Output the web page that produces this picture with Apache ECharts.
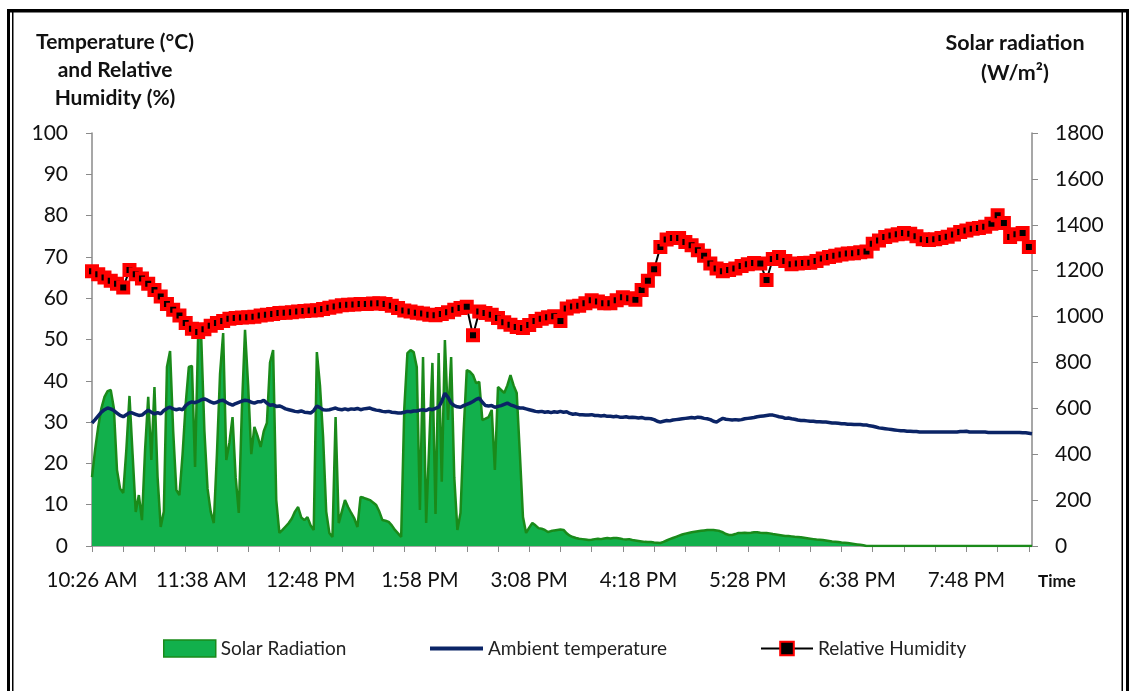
<!DOCTYPE html>
<html><head><meta charset="utf-8">
<script src="https://cdn.jsdelivr.net/npm/echarts@6/dist/echarts.min.js"></script>
<style>html,body{margin:0;padding:0;background:#fff}#c{width:1133px;height:691px}</style>
</head><body><div id="c"></div>
<script>
// x-axis tick labels (one every 35 samples)
const tickLabels = ['10:26 AM','11:38 AM','12:48 PM','1:58 PM','3:08 PM','4:18 PM','5:28 PM','6:38 PM','7:48 PM'];

// Solar radiation (W/m2), one value per sample
const solarRadiation = [
300,420,520,600,650,675,680,600,331,250,
231,420,654,400,148,222,113,420,650,375,
693,300,83,150,780,850,500,244,222,400,
620,780,785,344,928,900,500,250,150,100,
400,750,928,375,450,562,300,144,600,942,
700,400,519,480,432,500,536,800,854,200,
57,70,85,100,120,150,170,125,113,126,
90,70,845,700,475,150,57,39,562,100,
150,200,170,144,120,83,214,210,205,200,
190,179,150,113,110,105,90,70,55,39,
600,841,854,845,780,157,824,100,450,798,
140,841,280,898,549,824,300,70,144,500,
767,760,745,710,715,549,555,562,593,331,
693,680,667,700,745,700,667,405,126,57,
80,100,90,78,75,70,61,65,68,70,
72,70,55,45,39,35,32,30,28,26,
27,30,32,30,33,35,33,35,35,33,
30,28,30,26,24,22,20,18,17,17,
15,14,13,18,24,30,35,40,45,50,
54,57,60,62,64,66,68,70,70,70,
68,65,60,52,48,48,52,57,57,58,
57,58,60,60,58,57,57,55,52,50,
48,46,44,44,42,40,39,38,36,34,
32,30,28,27,26,24,22,20,19,17,
15,14,13,11,9,7,5,3,0,0,
0,0,0,0,0,0,0,0,0,0,
0,0,0,0,0,0,0,0,0,0,
0,0,0,0,0,0,0,0,0,0,
0,0,0,0,0,0,0,0,0,0,
0,0,0,0,0,0,0,0,0,0,
0,0
];

// Ambient temperature (°C), one value per sample
const ambientTemperature = [
29.8,30.6,31.5,32.4,33.0,33.4,33.2,32.8,32.2,31.6,
31.3,31.8,32.3,32.2,31.9,31.6,31.7,32.3,32.9,32.4,
32.0,32.3,32.0,32.8,33.3,33.6,33.2,33.0,33.2,33.0,
34.0,34.6,34.9,34.7,35.0,35.4,35.6,35.3,34.9,34.6,
34.8,35.2,35.3,34.8,34.4,34.1,34.5,34.8,35.1,35.3,
35.2,34.8,34.6,34.9,34.9,35.3,34.6,34.1,34.2,33.8,
33.9,33.6,33.2,33.0,32.8,32.6,32.5,32.7,32.4,32.3,
32.2,32.8,33.9,33.5,33.0,32.9,33.0,33.2,33.4,33.1,
33.0,33.2,33.0,33.2,33.1,33.3,33.0,33.2,33.3,33.4,
33.1,32.9,32.8,32.6,32.5,32.6,32.4,32.3,32.2,32.2,
32.4,32.6,32.5,32.7,32.7,32.9,33.0,32.8,33.2,33.0,
33.3,33.6,35.0,37.0,36.0,34.6,34.0,33.7,33.6,34.0,
34.3,34.6,35.0,35.5,35.8,34.8,34.0,33.9,34.0,33.6,
33.8,34.0,34.3,34.6,34.2,33.9,33.6,33.4,33.4,33.2,
33.0,32.8,32.6,32.5,32.6,32.4,32.5,32.3,32.5,32.4,
32.6,32.4,32.5,32.1,31.9,32.0,31.8,31.8,31.7,31.7,
31.8,31.6,31.6,31.5,31.6,31.4,31.4,31.3,31.4,31.2,
31.2,31.3,31.1,31.2,31.1,31.0,31.1,30.9,30.9,30.8,
30.6,30.2,30.0,30.2,30.4,30.3,30.5,30.6,30.7,30.8,
30.9,31.0,31.1,31.0,31.2,31.1,30.9,30.8,30.6,30.2,
30.0,30.5,30.9,30.7,30.6,30.5,30.6,30.5,30.6,30.8,
30.9,31.0,31.1,31.3,31.4,31.5,31.6,31.7,31.7,31.5,
31.3,31.2,30.9,31.0,30.8,30.7,30.5,30.4,30.4,30.3,
30.2,30.2,30.1,30.1,30.0,30.0,29.9,29.8,29.8,29.7,
29.6,29.6,29.5,29.5,29.4,29.4,29.4,29.3,29.3,29.1,
29.0,28.8,28.6,28.5,28.4,28.3,28.2,28.1,28.0,27.9,
27.9,27.8,27.8,27.7,27.7,27.6,27.6,27.6,27.6,27.6,
27.6,27.6,27.6,27.6,27.6,27.6,27.6,27.6,27.7,27.7,
27.8,27.6,27.6,27.6,27.6,27.6,27.6,27.5,27.5,27.5,
27.5,27.5,27.5,27.5,27.5,27.5,27.5,27.5,27.4,27.4,
27.3,27.2
];

// Relative humidity (%), recorded every 2nd sample
const relativeHumidity = [
66.5,65.8,65.0,64.2,63.5,62.6,66.8,65.8,64.8,63.5,
62.0,60.4,58.6,57.2,55.8,54.0,52.6,51.8,52.5,53.3,
54.0,54.5,55.0,55.2,55.3,55.4,55.5,55.8,56.0,56.2,
56.4,56.5,56.6,56.8,56.9,57.0,57.1,57.4,57.7,58.0,
58.3,58.4,58.5,58.6,58.6,58.7,58.8,58.6,58.2,57.6,
57.0,56.8,56.5,56.3,56.0,55.9,56.2,56.6,57.2,57.6,
57.9,51.0,56.8,56.4,56.0,55.2,54.2,53.6,53.0,52.8,
53.5,54.5,55.0,55.4,55.6,54.5,57.5,58.0,58.2,58.8,
59.5,59.2,58.8,58.8,59.5,60.2,60.0,59.6,62.0,64.2,
67.0,72.4,74.2,74.6,74.6,73.6,72.8,71.6,70.3,68.4,
67.2,66.5,66.8,67.2,67.8,68.2,68.5,68.4,64.4,69.5,
70.0,69.0,68.2,68.4,68.5,68.6,69.0,69.6,70.0,70.3,
70.6,70.8,70.9,71.1,71.3,73.2,74.0,74.8,75.2,75.5,
75.8,75.6,75.0,74.3,74.1,74.3,74.6,74.9,75.4,76.0,
76.4,76.8,77.0,77.3,78.0,80.1,78.2,74.8,75.5,75.8,
72.4
];
const humidityStep = 2;
const labelEvery = 35;

const categories = solarRadiation.map((_, i) => String(i));
const humidityData = relativeHumidity.map((v, j) => [j * humidityStep, v]);

const FONT = 'Lato';
const chart = echarts.init(document.getElementById('c'), null, {renderer: 'canvas'});
const axisGray = '#8a8a8a';
chart.setOption({
  animation: false,
  backgroundColor: '#fff',
  textStyle: {fontFamily: FONT},
  grid: {left: 92, right: 101, top: 133, bottom: 145, containLabel: false},
  xAxis: {
    type: 'category', data: categories, boundaryGap: false,
    axisLine: {lineStyle: {color: axisGray, width: 1.5}},
    axisTick: {interval: 9, length: 6, lineStyle: {color: axisGray}},
    axisLabel: {interval: labelEvery - 1, margin: 24, fontSize: 20.5, color: '#111', fontFamily: FONT,
      formatter: (v, idx) => tickLabels[Math.round(idx / labelEvery)] || ''},
    splitLine: {show: false}
  },
  yAxis: [
    {type: 'value', min: 0, max: 100, interval: 10,
     axisLine: {show: true, lineStyle: {color: axisGray, width: 1.5}},
     axisTick: {show: true, length: 6, lineStyle: {color: axisGray}},
     axisLabel: {fontSize: 21, color: '#111', margin: 24, fontFamily: FONT},
     splitLine: {show: false}},
    {type: 'value', min: 0, max: 1800, interval: 200, position: 'right',
     axisLine: {show: true, lineStyle: {color: axisGray, width: 1.5}},
     axisTick: {show: true, length: 6, lineStyle: {color: axisGray}},
     axisLabel: {fontSize: 21, color: '#111', margin: 23, fontFamily: FONT, formatter: v => String(v)},
     splitLine: {show: false}}
  ],
  legend: [
    {data: ['Solar Radiation'], left: 158, top: 634, icon: 'rect', itemWidth: 52, itemHeight: 17, itemGap: 0,
     itemStyle: {color: '#12b04c', borderColor: '#1a8a1a', borderWidth: 1.5},
     textStyle: {fontSize: 19, color: '#222', fontFamily: FONT}},
    {data: ['Ambient temperature'], left: 425, top: 634, icon: 'rect', itemWidth: 53, itemHeight: 4,
     itemStyle: {color: '#0b2466', borderWidth: 0},
     textStyle: {fontSize: 19, color: '#222', fontFamily: FONT}},
    {data: ['Relative Humidity'], left: 755, top: 634, itemWidth: 52, itemHeight: 17,
     textStyle: {fontSize: 19, color: '#222', fontFamily: FONT}}
  ],
  series: [
    {name: 'Solar Radiation', type: 'line', yAxisIndex: 1, data: solarRadiation,
     symbol: 'none', lineStyle: {color: '#1a8a1a', width: 2.5},
     itemStyle: {color: '#12b04c', borderColor: '#1a8a1a', borderWidth: 1.5},
     areaStyle: {color: '#12b04c', opacity: 1}, z: 1},
    {name: 'Ambient temperature', type: 'line', yAxisIndex: 0, data: ambientTemperature,
     symbol: 'none', lineStyle: {color: '#0b2466', width: 3.5}, itemStyle: {color: '#0b2466'}, z: 2},
    {name: 'Relative Humidity', type: 'line', yAxisIndex: 0, data: humidityData,
     symbol: 'rect', symbolSize: 10, showAllSymbol: true,
     lineStyle: {color: '#000', width: 2},
     itemStyle: {color: '#000', borderColor: '#ff0000', borderWidth: 4}, z: 3}
  ],
  graphic: [
    {type: 'rect', shape: {x: 7, y: 9, width: 3, height: 700}, style: {fill: '#000'}},
    {type: 'rect', shape: {x: 12, y: 12, width: 1.5, height: 700}, style: {fill: '#000'}},
    {type: 'rect', shape: {x: 7, y: 9, width: 1122, height: 3.5}, style: {fill: '#000'}},
    {type: 'rect', shape: {x: 1126, y: 9, width: 3, height: 700}, style: {fill: '#000'}},
    {type: 'rect', shape: {x: 1121.5, y: 12, width: 1.5, height: 700}, style: {fill: '#000'}},
    {type: 'text', x: 115, y: 28, style: {text: 'Temperature (°C)\nand Relative\nHumidity (%)', align: 'center',
      font: 'bold 21px Lato', fill: '#111', lineHeight: 28}},
    {type: 'text', x: 1015, y: 28, style: {text: 'Solar radiation\n(W/m²)', align: 'center',
      font: 'bold 21.5px Lato', fill: '#111', lineHeight: 30}},
    {type: 'text', x: 1057, y: 573, style: {text: 'Time', align: 'center',
      font: 'bold 17px Lato', fill: '#111'}}
  ]
});
</script></body></html>
